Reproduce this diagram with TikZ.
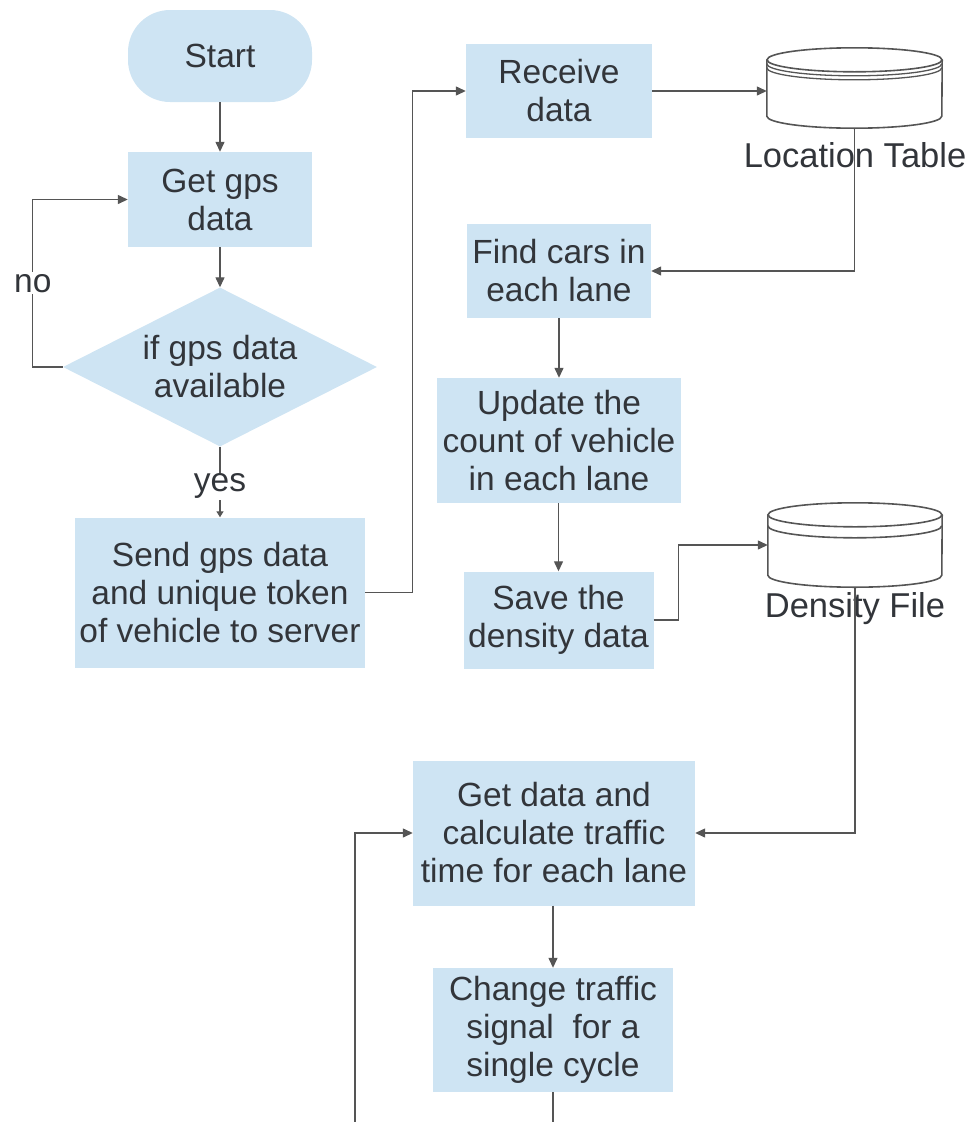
\documentclass[tikz,border=0pt]{standalone}
\usepackage{fontspec}
\setmainfont{Liberation Sans}
\usetikzlibrary{arrows.meta,shapes.geometric}
\definecolor{boxfill}{RGB}{206,228,243}
\definecolor{linec}{RGB}{85,85,85}
\definecolor{textc}{RGB}{50,53,58}
\begin{document}
\begin{tikzpicture}[x=1pt,y=-1pt,
  txt/.style={text=textc, font=\fontsize{33.5}{38}\selectfont},
  stepbox/.style={txt, fill=boxfill, draw=none, inner sep=0pt, align=center},
  conn/.style={draw=linec, line width=1.3pt, -{Triangle[length=10pt,width=9pt]}},
  plain/.style={draw=linec, line width=1.3pt},
  cyl/.style={draw=linec, line width=1.6pt},
  lbl/.style={txt, fill=white, inner sep=2pt}]
\useasboundingbox (0,0) rectangle (969,1122);

% left column: acquiring GPS data on the vehicle
\node[stepbox, rounded corners=42pt, minimum width=184pt, minimum height=92pt] (start) at (220,56) {Start};
\node[stepbox, minimum width=184pt, minimum height=95pt] (gps) at (220,199.5) {Get gps\\data};
\node[stepbox, diamond, aspect=2, minimum width=314pt, minimum height=159pt] (avail) at (220,367) {if gps data\\available};
\node[stepbox, minimum width=290pt, minimum height=150pt] (send) at (220,592.5) {Send gps data\\and unique token\\of vehicle to server};

% middle column: server side processing
\node[stepbox, minimum width=186pt, minimum height=94pt] (recv) at (559,91) {Receive\\data};
\node[stepbox, minimum width=184pt, minimum height=94pt] (find) at (559,271) {Find cars in\\each lane};
\node[stepbox, minimum width=244pt, minimum height=125pt] (upd) at (559,440.5) {Update the\\count of vehicle\\in each lane};
\node[stepbox, minimum width=190pt, minimum height=97pt] (save) at (558.5,620) {Save the\\density data};
\node[stepbox, minimum width=282pt, minimum height=145pt] (getd) at (554,833) {Get data and\\calculate traffic\\time for each lane};
\node[stepbox, minimum width=240pt, minimum height=124pt] (chg) at (553,1030) {Change traffic\\signal\ \ for a\\single cycle};

% storage cylinders (node areas used as connector anchors)
\node[inner sep=0pt, minimum width=175pt, minimum height=80pt] (loc) at (854.5,88) {};
\node[inner sep=0pt, minimum width=174pt, minimum height=84pt] (dens) at (855,545) {};

% Location Table cylinder: top with a doubled rim
\draw[cyl] ([yshift=-12pt]loc.north west) -- ([yshift=12pt]loc.south west)
  arc[start angle=180, end angle=360, x radius=87.5pt, y radius=12pt]
  -- ([yshift=-12pt]loc.north east);
\draw[cyl] ([yshift=-12pt]loc.north) ellipse[x radius=87.5pt, y radius=12pt];
\draw[cyl, line width=1.3pt] ([yshift=-16pt]loc.north west)
  arc[start angle=180, end angle=360, x radius=87.5pt, y radius=12pt];
\draw[cyl, line width=1.3pt] ([yshift=-20pt]loc.north west)
  arc[start angle=180, end angle=360, x radius=87.5pt, y radius=12pt];

% Density File cylinder: top with a single band
\draw[cyl] ([yshift=-12pt]dens.north west) -- ([yshift=12pt]dens.south west)
  arc[start angle=180, end angle=360, x radius=87pt, y radius=12pt]
  -- ([yshift=-12pt]dens.north east);
\draw[cyl] ([yshift=-12pt]dens.north) ellipse[x radius=87pt, y radius=12pt];
\draw[cyl] ([yshift=-23pt]dens.north west)
  arc[start angle=180, end angle=360, x radius=87pt, y radius=12pt];

% open ends of the loop back at the bottom
\coordinate (loopR) at (553,1122);
\coordinate (loopL) at (355,1122);

% connectors
\draw[conn] (start) -- (gps);
\draw[conn] (gps) -- (avail);
\draw[conn] (avail.west) -- ++(-30,0) |- (gps.west) node[lbl, pos=0.25] {no};
\draw[plain, -{Triangle[length=6pt,width=7pt]}] (avail.south) -- (send.north) node[lbl, pos=0.56, inner sep=1pt] {yes};
\draw[conn] (send.east) -- ++(47,0) |- (recv.west);
\draw[conn] (recv.east) -- (recv.east -| loc.west);

% cylinder captions (the connectors run through them)
\node[txt, font=\fontsize{34.5}{40}\selectfont, inner sep=0pt] (loctxt) at (855,155) {Location Table};
\node[txt, font=\fontsize{34.5}{40}\selectfont, inner sep=0pt] (denstxt) at (855,609) {Density File};

\draw[conn] (loc.south) |- (find.east);
\draw[conn] (find.south -| upd.north) -- (upd.north);
\draw[conn] (upd.south -| save.north) -- (save.north);
\draw[conn] (save.east) -- ++(25,0) |- (dens.west);
\draw[conn] (dens.south) |- (getd.east);
\draw[conn] (getd.south -| chg.north) -- (chg.north);
\draw[plain] (chg.south) -- (loopR);
\draw[conn] (loopL) |- (getd.west);
\end{tikzpicture}
\end{document}
